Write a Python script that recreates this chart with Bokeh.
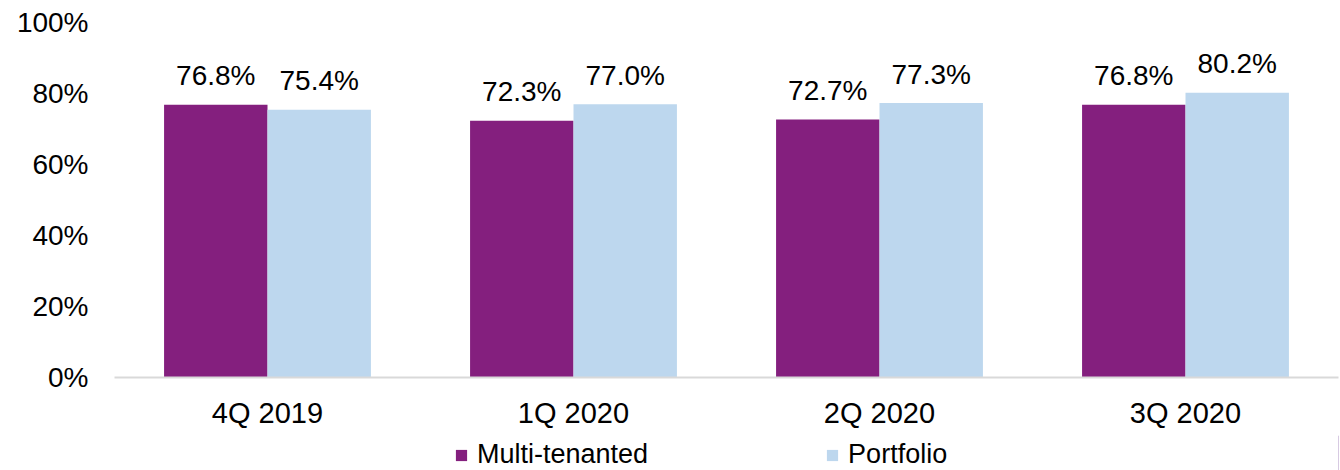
from bokeh.plotting import figure
from bokeh.layouts import column
from bokeh.models import ColumnDataSource, FixedTicker, Legend, LegendItem, Range1d
from bokeh.transform import dodge
from bokeh.core.properties import value
from bokeh.embed import file_html
from bokeh.resources import INLINE

quarters = ["4Q 2019", "1Q 2020", "2Q 2020", "3Q 2020"]
multi_tenanted = [76.8, 72.3, 72.7, 76.8]
portfolio = [75.4, 77.0, 77.3, 80.2]
series_names = ["Multi-tenanted", "Portfolio"]
y_ticks = [0, 20, 40, 60, 80, 100]
y_tick_labels = {t: f"{t}%" for t in y_ticks}

PURPLE = "#841F7E"
BLUE = "#BDD7EE"
FONT = "Liberation Sans"

src = ColumnDataSource(dict(
    q=quarters,
    m=multi_tenanted,
    p=portfolio,
    ml=[f"{v:.1f}%" for v in multi_tenanted],
    pl=[f"{v:.1f}%" for v in portfolio],
))

p = figure(width=1340, height=435, x_range=quarters, y_range=Range1d(0, 100),
           output_backend="svg", toolbar_location=None,
           min_border_left=114, min_border_right=2, min_border_top=22, min_border_bottom=58)
p.outline_line_color = None
p.xgrid.grid_line_color = None
p.ygrid.grid_line_color = None

off = 0.169
bw = 0.338
p.vbar(x=dodge("q", -off, range=p.x_range), top="m", width=bw, source=src,
       fill_color=PURPLE, line_color=None)
p.vbar(x=dodge("q", off, range=p.x_range), top="p", width=bw, source=src,
       fill_color=BLUE, line_color=None)

p.text(x=dodge("q", -off, range=p.x_range), y="m", text="ml", source=src,
       text_align="center", text_baseline="alphabetic", y_offset=-29,
       text_font=value(FONT), text_font_size="28px", text_color="#000000")
p.text(x=dodge("q", off, range=p.x_range), y="p", text="pl", source=src,
       text_align="center", text_baseline="alphabetic", y_offset=-29,
       text_font=value(FONT), text_font_size="28px", text_color="#000000")

p.yaxis.ticker = FixedTicker(ticks=y_ticks)
p.yaxis.major_label_overrides = y_tick_labels
p.yaxis.axis_line_color = None
p.yaxis.major_tick_line_color = None
p.yaxis.minor_tick_line_color = None
p.yaxis.major_label_standoff = 20
p.yaxis.major_label_text_font = FONT
p.yaxis.major_label_text_font_size = "28px"
p.yaxis.major_label_text_color = "#000000"

p.xaxis.axis_line_color = "#D9D9D9"
p.xaxis.axis_line_width = 2
p.xaxis.major_tick_line_color = None
p.xaxis.minor_tick_line_color = None
p.xaxis.major_label_standoff = 13
p.xaxis.major_label_text_font = FONT
p.xaxis.major_label_text_font_size = "29px"
p.xaxis.major_label_text_color = "#000000"

# legend strip below the chart
lg = figure(width=1340, height=35, x_range=Range1d(0, 1), y_range=Range1d(0, 1),
            output_backend="svg", toolbar_location=None,
            x_axis_location=None, y_axis_location=None,
            min_border_left=0, min_border_right=0, min_border_top=0, min_border_bottom=0)
lg.outline_line_color = None
lg.xgrid.grid_line_color = None
lg.ygrid.grid_line_color = None
d1 = lg.vbar(x=[5], top=[5], width=0.1, fill_color=PURPLE, line_color=None)
d2 = lg.vbar(x=[5], top=[5], width=0.1, fill_color=BLUE, line_color=None)
legend = Legend(items=[LegendItem(label=series_names[0], renderers=[d1]),
                       LegendItem(label=series_names[1], renderers=[d2])],
                orientation="horizontal", location=(340, 0),
                glyph_width=14, glyph_height=14, spacing=177, label_standoff=9,
                padding=0, margin=0, border_line_alpha=0, background_fill_alpha=0,
                label_text_font=FONT, label_text_font_size="27px", label_text_color="#000000")
lg.add_layout(legend, "center")

layout = column(p, lg, spacing=0)
open("out.html", "w").write(file_html(layout, INLINE))
